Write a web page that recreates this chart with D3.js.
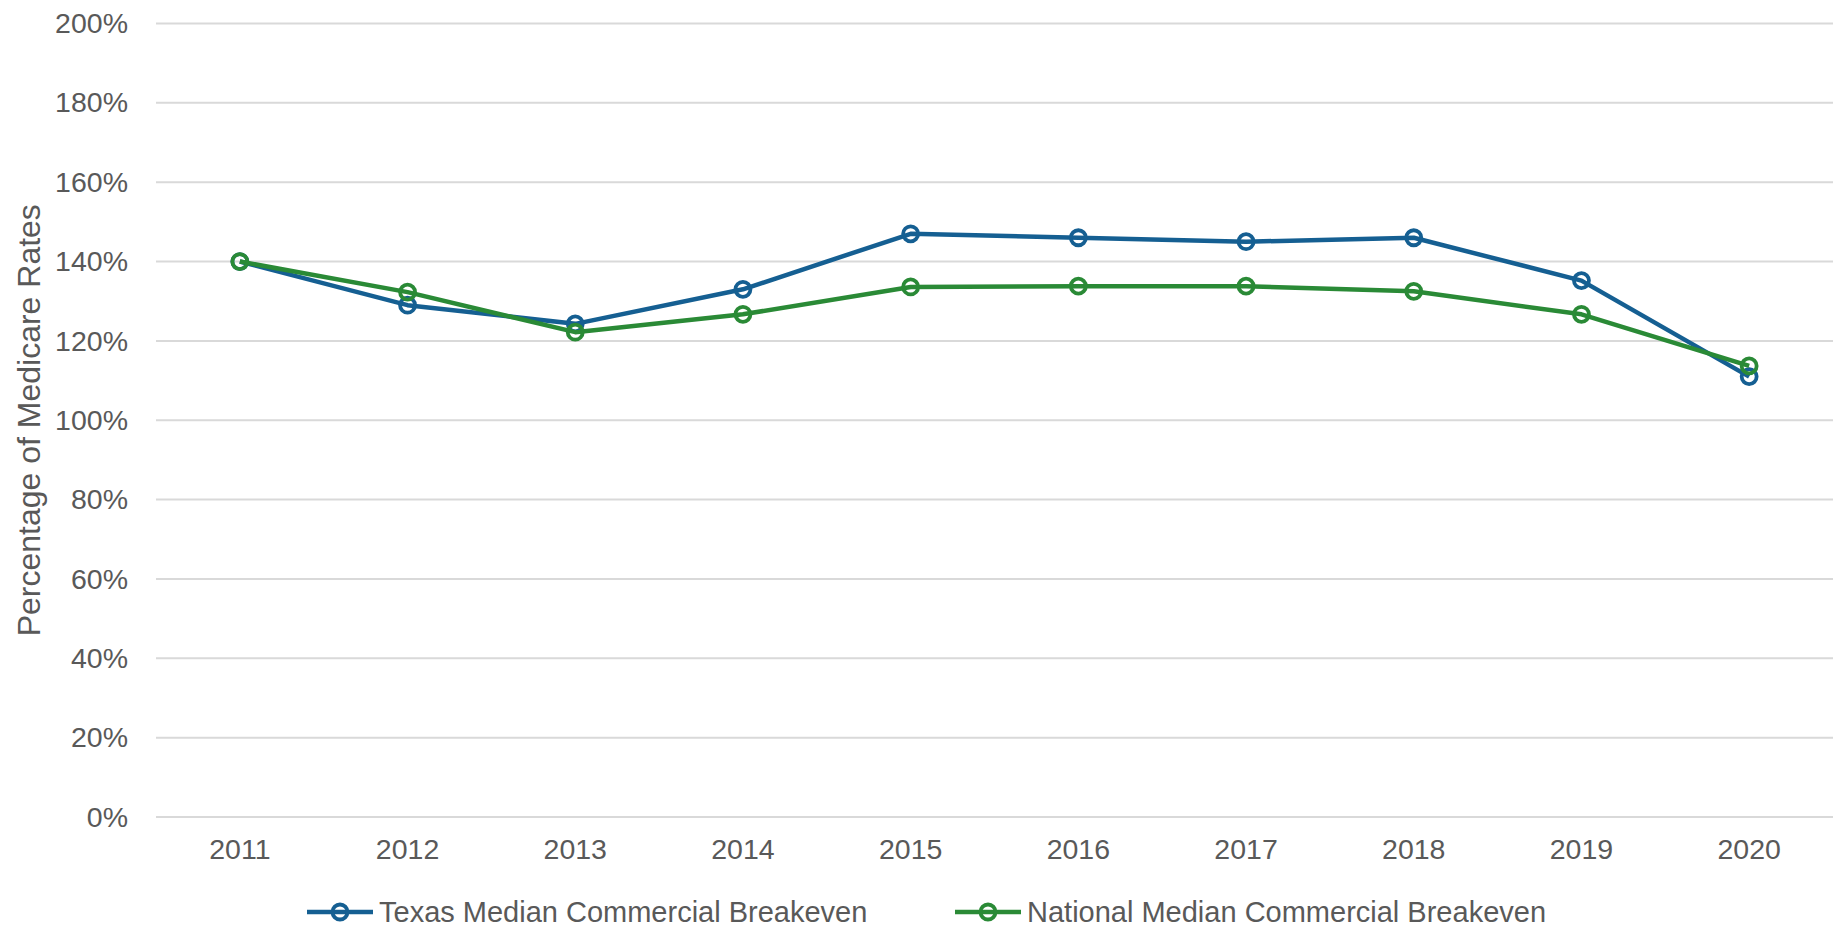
<!DOCTYPE html>
<html>
<head>
<meta charset="utf-8">
<script src="https://cdn.jsdelivr.net/npm/d3@7"></script>
<style>
  body { margin: 0; background: #fff; }
  text { font-family: "Liberation Sans", Arial, sans-serif; fill: #595959; }
</style>
</head>
<body>
<div id="chart"></div>
<script>
// chart data
var years = ["2011", "2012", "2013", "2014", "2015", "2016", "2017", "2018", "2019", "2020"];
var texas = [140, 129, 124.3, 133, 147, 146, 145, 146, 135.2, 111];
var national = [140, 132.3, 122.2, 126.7, 133.6, 133.8, 133.8, 132.5, 126.7, 113.7];
var yTicks = [0, 20, 40, 60, 80, 100, 120, 140, 160, 180, 200];
var seriesNames = ["Texas Median Commercial Breakeven", "National Median Commercial Breakeven"];
var seriesColors = ["#155f92", "#2a8a36"];

var svgWidth = 1833;
var svgHeight = 927;
var padding = {"left": 156, "right": 0, "top": 23.5, "bottom": 110};

var svg = d3.select("#chart").append("svg")
	.attr("width", svgWidth)
	.attr("height", svgHeight);

var xScale = d3.scaleBand().domain(years).range([padding.left, svgWidth - padding.right]).padding(0);
var yScale = d3.scaleLinear().domain([0, 200]).range([svgHeight - padding.bottom, padding.top]);

// grid lines
svg.append("g").selectAll("line")
	.data(yTicks)
	.enter()
	.append("line")
	.attr("x1", padding.left)
	.attr("x2", svgWidth - padding.right)
	.attr("y1", function(d) { return yScale(d); })
	.attr("y2", function(d) { return yScale(d); })
	.attr("stroke", "#d9d9d9")
	.attr("stroke-width", 2);

// y axis labels
var yAxis = d3.axisLeft(yScale).tickValues(yTicks).tickSize(0).tickPadding(28)
	.tickFormat(function(d) { return d + "%"; });
var yG = svg.append("g")
	.attr("transform", "translate(" + padding.left + ",0)")
	.call(yAxis);
yG.select(".domain").remove();
yG.selectAll("text").attr("font-size", 28.5).attr("fill", "#595959")
	.attr("font-family", "Liberation Sans, Arial, sans-serif");

// x axis labels
var xAxis = d3.axisBottom(xScale).tickSize(0).tickPadding(22);
var xG = svg.append("g")
	.attr("transform", "translate(0," + (svgHeight - padding.bottom) + ")")
	.call(xAxis);
xG.select(".domain").remove();
xG.selectAll("text").attr("font-size", 28.5).attr("fill", "#595959")
	.attr("font-family", "Liberation Sans, Arial, sans-serif");

// y title
svg.append("text")
	.attr("transform", "translate(29," + ((padding.top + svgHeight - padding.bottom) / 2) + ") rotate(-90)")
	.attr("text-anchor", "middle")
	.attr("dominant-baseline", "central")
	.attr("font-size", 32)
	.text("Percentage of Medicare Rates");

// lines + markers
var allSeries = [texas, national];
var line = d3.line()
	.x(function(d, i) { return xScale(years[i]) + xScale.bandwidth() / 2; })
	.y(function(d) { return yScale(d); });

allSeries.forEach(function(values, s) {
	svg.append("path")
		.datum(values)
		.attr("d", line)
		.attr("fill", "none")
		.attr("stroke", seriesColors[s])
		.attr("stroke-width", 4.5)
		.attr("stroke-linejoin", "round");

	svg.append("g").selectAll("circle")
		.data(values)
		.enter()
		.append("circle")
		.attr("cx", function(d, i) { return xScale(years[i]) + xScale.bandwidth() / 2; })
		.attr("cy", function(d) { return yScale(d); })
		.attr("r", 7.5)
		.attr("fill", "none")
		.attr("stroke", seriesColors[s])
		.attr("stroke-width", 3.8);
});

// legend
var legendX = [307, 955];
var legendY = 912;
seriesNames.forEach(function(name, s) {
	var g = svg.append("g").attr("transform", "translate(" + legendX[s] + "," + legendY + ")");
	g.append("line")
		.attr("x1", 0).attr("x2", 66)
		.attr("y1", 0).attr("y2", 0)
		.attr("stroke", seriesColors[s])
		.attr("stroke-width", 4.5);
	g.append("circle")
		.attr("cx", 33).attr("cy", 0).attr("r", 7.5)
		.attr("fill", "none")
		.attr("stroke", seriesColors[s])
		.attr("stroke-width", 3.8);
	g.append("text")
		.attr("x", 72).attr("y", 0)
		.attr("dominant-baseline", "central")
		.attr("font-size", 29)
		.text(name);
});
</script>
</body>
</html>
